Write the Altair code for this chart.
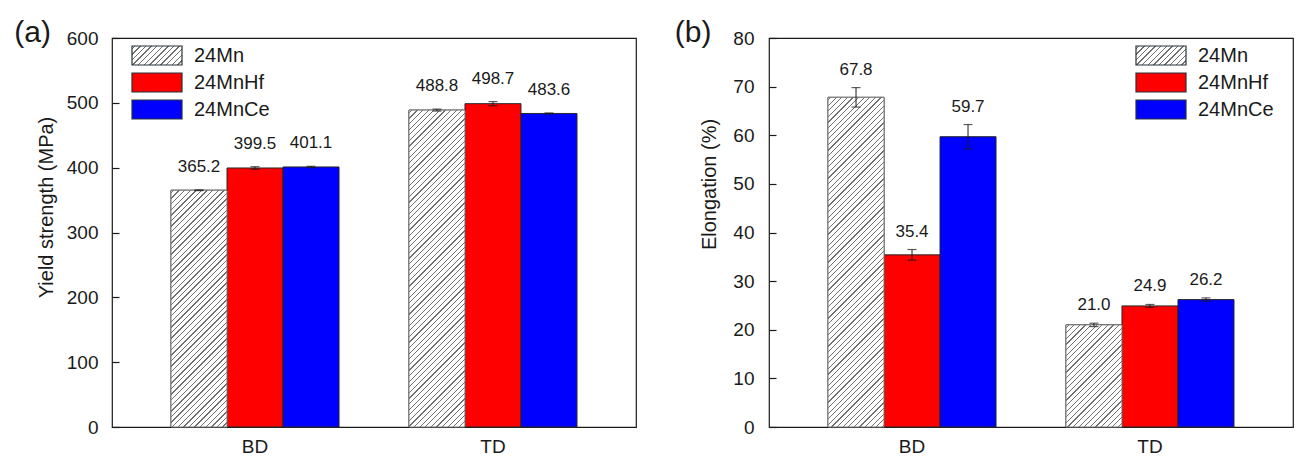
import json
import altair as alt
import pandas as pd

# ---------------- data ----------------
conditions = ["BD", "TD"]
series = ["24Mn", "24MnHf", "24MnCe"]

ys_24mn = [365.2, 488.8]
ys_24mnhf = [399.5, 498.7]
ys_24mnce = [401.1, 483.6]
ys_err_24mn = [0.6, 1.5]
ys_err_24mnhf = [2.0, 3.2]
ys_err_24mnce = [1.0, 0.8]

el_24mn = [67.8, 21.0]
el_24mnhf = [35.4, 24.9]
el_24mnce = [59.7, 26.2]
el_err_24mn = [2.0, 0.35]
el_err_24mnhf = [1.1, 0.3]
el_err_24mnce = [2.5, 0.35]

ys_ticks = [0, 100, 200, 300, 400, 500, 600]
el_ticks = [0, 10, 20, 30, 40, 50, 60, 70, 80]

series_colors = ["#ff0000", "#0000ff"]

# ---------------- style ----------------
W, H = 524, 389
PAD_INNER, PAD_OUTER = 0.294, 0.248
FONT = "Liberation Sans"
INK = "#1a1a1a"

step = W / (len(conditions) - PAD_INNER + 2 * PAD_OUTER)
BAR_W = step * (1 - PAD_INNER) / len(series)


def hatch(w, h, spacing=5.6, lw=1.3, ink="#707070"):
    """Linear gradient with hard stops that draws '/' hatching at 45 deg
    for a rectangle of w x h pixels (objectBoundingBox units)."""
    r = h / w
    c = (1 + r) / (1 + r * r)
    L = w + h
    stops = [{"offset": 0, "color": "#ffffff"}]
    p = spacing / 2
    while p - lw / 2 < L:
        a = round(max(0.0, (p - lw / 2) / L), 5)
        b = round(min(1.0, (p + lw / 2) / L), 5)
        stops += [
            {"offset": a, "color": "#ffffff"},
            {"offset": a, "color": ink},
            {"offset": b, "color": ink},
            {"offset": b, "color": "#ffffff"},
        ]
        p += spacing
    return {"gradient": "linear", "x1": 0, "y1": 0,
            "x2": round(c, 5), "y2": round(c * r, 5), "stops": stops}


def panel(vals, errs, ticks, ymax, tag, tag_dx, y_title, title_y, legend_x,
          label_dy, label_pad, title_pad):
    rows = []
    for s, v, e in zip(series, vals, errs):
        for c, vv, ee in zip(conditions, v, e):
            rows.append({"cond": c, "series": s, "value": vv,
                         "lo": vv - ee, "hi": vv + ee})
    df = pd.DataFrame(rows)
    base = alt.Chart(df)

    x = alt.X("cond:N",
              scale=alt.Scale(domain=conditions, paddingInner=PAD_INNER,
                              paddingOuter=PAD_OUTER),
              axis=alt.Axis(title=None, labelAngle=0, ticks=False, domain=False,
                            labelFontSize=19, labelPadding=10))
    xo = alt.XOffset("series:N",
                     scale=alt.Scale(domain=series, paddingInner=0, paddingOuter=0))
    yscale = alt.Scale(domain=[0, ymax], nice=False, zero=True)

    legend_grad = hatch(50, 19)
    bars = base.mark_bar(stroke="#262626", strokeWidth=1).encode(
        x=x, xOffset=xo,
        y=alt.Y("value:Q", scale=yscale,
                axis=alt.Axis(title=y_title, values=ticks, ticks=False,
                              domain=False, grid=False, labelFontSize=19,
                              labelPadding=label_pad, titleFontSize=20,
                              titlePadding=title_pad, titleY=title_y)),
        color=alt.Color(
            "series:N",
            scale=alt.Scale(domain=series,
                            range=[alt.ExprRef(json.dumps(legend_grad))] + series_colors),
            legend=alt.Legend(orient="none", legendX=legend_x, legendY=4,
                              title=None, symbolType="M-1,-0.76H3V0.76H-1Z",
                              symbolSize=625, symbolStrokeColor="#263238",
                              symbolStrokeWidth=1.2, labelFontSize=20,
                              labelOffset=36, rowPadding=1, padding=0,
                              labelColor=INK, symbolOpacity=1)),
    )

    # hatched overlay for the 24Mn bars, one gradient per bar shape
    grads = {}
    for c, v in zip(conditions, vals[0]):
        grads[c] = hatch(BAR_W, v / ymax * H)
    expr = "datum.cond === '%s' ? %s : %s" % (
        conditions[0], json.dumps(grads[conditions[0]]),
        json.dumps(grads[conditions[1]]))
    mn = alt.Chart(df[df["series"] == series[0]]).mark_bar(
        fill=alt.ExprRef(expr), stroke="#7a7a7a", strokeWidth=1).encode(
        x=x, xOffset=xo, y=alt.Y("value:Q", scale=yscale, axis=None))

    tick_axis = alt.Axis(orient="right", offset=-W, labels=False, domain=False,
                         grid=False, ticks=True, tickSize=7, tickColor=INK,
                         tickWidth=1.2, values=ticks, title=None)
    err_rule = base.mark_rule(color=INK, strokeWidth=1).encode(
        x=x, xOffset=xo, y=alt.Y("lo:Q", scale=yscale, axis=tick_axis), y2="hi:Q")
    cap_lo = base.mark_tick(color=INK, size=9, thickness=1.2).encode(
        x=x, xOffset=xo, y=alt.Y("lo:Q", scale=yscale, axis=None))
    cap_hi = base.mark_tick(color=INK, size=9, thickness=1.2).encode(
        x=x, xOffset=xo, y=alt.Y("hi:Q", scale=yscale, axis=None))
    labels = base.mark_text(baseline="alphabetic", dy=label_dy, fontSize=17,
                            font=FONT, color=INK).encode(
        x=x, xOffset=xo, y=alt.Y("hi:Q", scale=yscale, axis=None),
        text=alt.Text("value:Q", format=".1f"))

    return alt.layer(bars, mn, err_rule, cap_lo, cap_hi, labels).resolve_axis(
        y="independent").properties(
        width=W, height=H,
        title=alt.TitleParams(text=tag, anchor="start", frame="bounds",
                              fontSize=30, fontWeight="normal", dx=tag_dx, dy=23,
                              color=INK, font=FONT, offset=4))


pa = panel([ys_24mn, ys_24mnhf, ys_24mnce],
           [ys_err_24mn, ys_err_24mnhf, ys_err_24mnce],
           ys_ticks, 600, "(a)", -22, "Yield strength (MPa)", 169, 19,
           -18, 14, 10)
pb = panel([el_24mn, el_24mnhf, el_24mnce],
           [el_err_24mn, el_err_24mnhf, el_err_24mnce],
           el_ticks, 80, "(b)", -25, "Elongation (%)", 146, 366,
           -13, 15, 13)

chart = alt.hconcat(pa, pb, spacing=37).resolve_scale(
    color="independent", y="independent").resolve_legend(
    color="independent").properties(
    padding={"left": 5, "top": 9, "right": 5, "bottom": 5}).configure_view(
    stroke=INK, strokeWidth=1.2).configure_axis(
    labelFont=FONT, titleFont=FONT, labelColor=INK, titleColor=INK,
    titleFontWeight="normal").configure_legend(labelFont=FONT).configure_title(
    font=FONT)

chart.save("out.html", embed_options={"renderer": "svg", "actions": False})
